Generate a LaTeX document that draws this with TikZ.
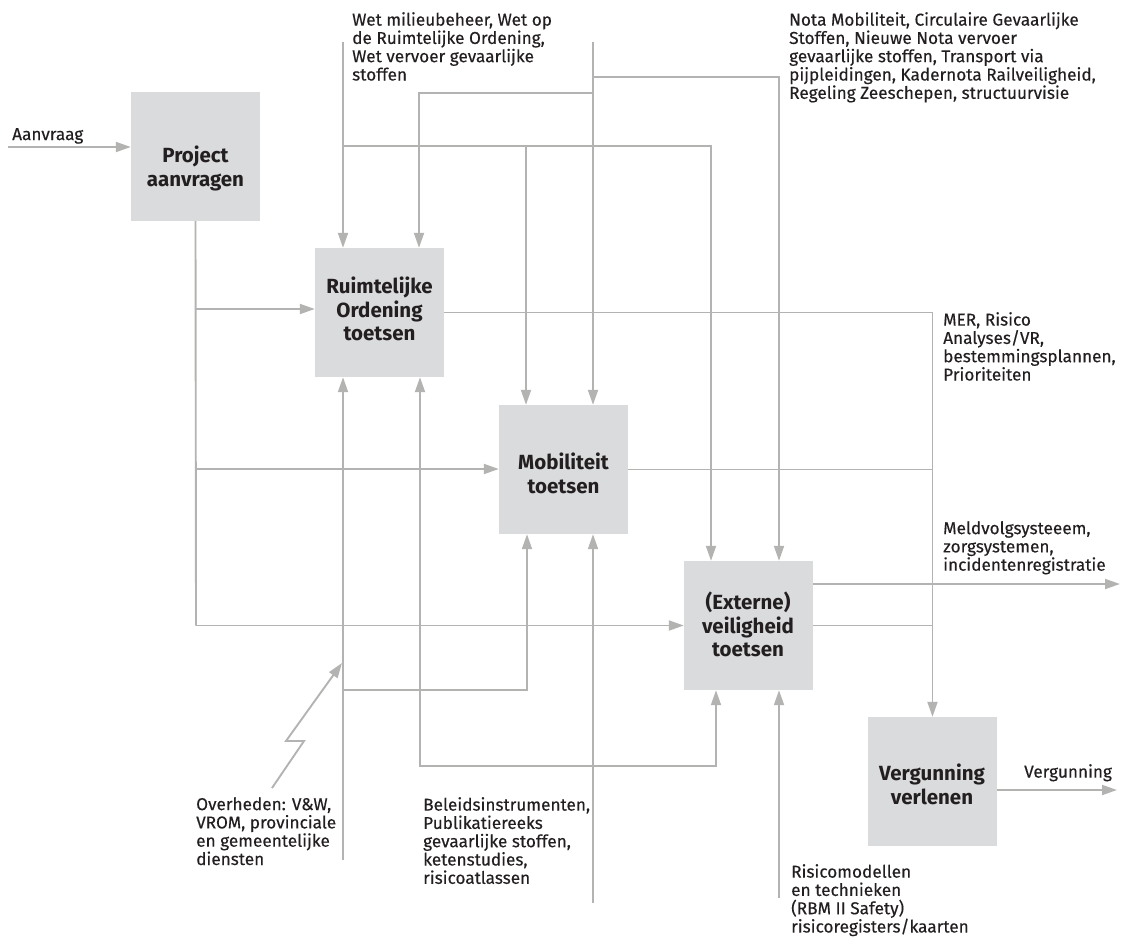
\documentclass[tikz,border=0pt]{standalone}
\usepackage{fontspec}
\setmainfont{Fira Sans}
\newfontfamily\notefont{Fira Sans}[FakeBold=0.3]
\usetikzlibrary{arrows.meta}
\definecolor{flow}{HTML}{B3B3B1}
\definecolor{boxfill}{HTML}{DADBDD}
\definecolor{ink}{HTML}{231F20}
\begin{document}
\begin{tikzpicture}[x=1pt,y=-1pt,
  flowline/.style={draw=flow, line width=1.9pt},
  feed/.style={flowline, -{Triangle[length=15pt,width=10pt]}},
  feedboth/.style={flowline, {Triangle[length=15pt,width=10pt]}-{Triangle[length=15pt,width=10pt]}},
  stage/.style={fill=boxfill, minimum width=129pt, minimum height=129pt, inner sep=0pt},
  stagetext/.style={anchor=north, align=center, inner sep=0pt, text=ink,
    font=\fontsize{20.5}{23.3}\selectfont\bfseries},
  note/.style={anchor=north west, align=left, inner sep=0pt, text=ink,
    font=\notefont\fontsize{17.2}{18.3}\selectfont}
]
\useasboundingbox (0,0) rectangle (1124,938);

% process boxes
\node[stage] (P) at (195.5,156.5) {};
\node[stage] (R) at (379.5,312.5) {};
\node[stage] (M) at (563.5,469.5) {};
\node[stage] (E) at (748.5,625.5) {};
\node[stage] (V) at (932.5,781.5) {};

\node[stagetext] (Pt) at (195.5,146) {Project\\aanvragen};
\node[stagetext] (Rt) at (379.5,277) {Ruimtelijke\\Ordening\\toetsen};
\node[stagetext] (Mt) at (563.5,453) {Mobiliteit\\toetsen};
\node[stagetext] (Et) at (748,592) {(Externe)\\veiligheid\\toetsen};
\node[stagetext] (Vt) at (932,764) {Vergunning\\verlenen};

% free ends and junctions
\coordinate (ain) at (8,147);
\coordinate (pr) at (196,309);
\coordinate (pm) at (196,469);
\coordinate (pe) at (196,625.5);

\coordinate (t1) at (343,42);
\coordinate (j1a) at (343,146);
\coordinate (j1b) at (711,146);
\coordinate (j1c) at (526,146);

\coordinate (t2) at (593,42);
\coordinate (j2a) at (593,93);
\coordinate (j2b) at (419,93);
\coordinate (j2c) at (593,77);
\coordinate (j2d) at (779,77);

\coordinate (eo) at (813,584);
\coordinate (mout) at (1120,584);
\coordinate (vout) at (1117,790);

\coordinate (b1) at (343,860);
\coordinate (b1j) at (343,690);
\coordinate (b1k) at (527,690);
\coordinate (b2a) at (420,766);
\coordinate (b2b) at (716,766);
\coordinate (b3) at (593,903);
\coordinate (b4) at (779,898);

\coordinate (z0) at (272,788);
\coordinate (z1) at (304,741);
\coordinate (z2) at (286,741);
\coordinate (zt) at (342,663);

% request and project flows
\draw[feed] (ain) -- (ain -| P.west);
\draw[flowline] (P.south) -- (pe);
\draw[feed] (pe) -- (pe -| E.west);
\draw[feed] (pr) -- (pr -| R.west);
\draw[feed] (pm) -- (pm -| M.west);

% legislation from above
\draw[feed] (t1) -- (t1 |- R.north);
\draw[feed] (j1a) -- (j1b) -- (j1b |- E.north);
\draw[feed] (j1c) -- (j1c |- M.north);

% policy documents from above
\draw[feed] (t2) -- (t2 |- M.north);
\draw[feed] (j2a) -- (j2b) -- (j2b |- R.north);
\draw[feed] (j2c) -- (j2d) -- (j2d |- E.north);

% outputs to the right
\draw[feed] (R.east) -- (R.east -| V.north) -- (V.north);
\draw[flowline] (M.east) -- (M.east -| V.north);
\draw[flowline] (E.east) -- (E.east -| V.north);
\draw[feed] (eo) -- (mout);
\draw[feed] (vout -| V.east) -- (vout);

% mechanisms from below
\draw[feed] (b1) -- (b1 |- R.south);
\draw[feed] (b1j) -- (b1k) -- (b1k |- M.south);
\draw[feedboth] (b2a |- R.south) -- (b2a) -- (b2b) -- (b2b |- E.south);
\draw[feed] (b3) -- (b3 |- M.south);
\draw[feed] (b4) -- (b4 |- E.south);
\draw[feed] (z0) -- (z1) -- (z2) -- (zt);

% labels
\node[note] (lA) at (12,128) {Aanvraag};
\node[note] (lW) at (352,12) {Wet milieubeheer, Wet op\\de Ruimtelijke Ordening,\\Wet vervoer gevaarlijke\\stoffen};
\node[note] (lN) at (789,12) {Nota Mobiliteit, Circulaire Gevaarlijke\\Stoffen, Nieuwe Nota vervoer\\gevaarlijke stoffen, Transport via\\pijpleidingen, Kadernota Railveiligheid,\\Regeling Zeeschepen, structuurvisie};
\node[note] (lM) at (943,312) {MER, Risico\\Analyses/VR,\\bestemmingsplannen,\\Prioriteiten};
\node[note] (lS) at (943,521) {Meldvolgsysteeem,\\zorgsystemen,\\incidentenregistratie};
\node[note] (lV) at (1024,764) {Vergunning};
\node[note] (lO) at (196,797) {Overheden: V\&W,\\VROM, provinciale\\en gemeentelijke\\diensten};
\node[note] (lB) at (423,797) {Beleidsinstrumenten,\\Publikatiereeks\\gevaarlijke stoffen,\\ketenstudies,\\risicoatlassen};
\node[note] (lR) at (791,864) {Risicomodellen\\en technieken\\(RBM II Safety)\\risicoregisters/kaarten};
\end{tikzpicture}
\end{document}
